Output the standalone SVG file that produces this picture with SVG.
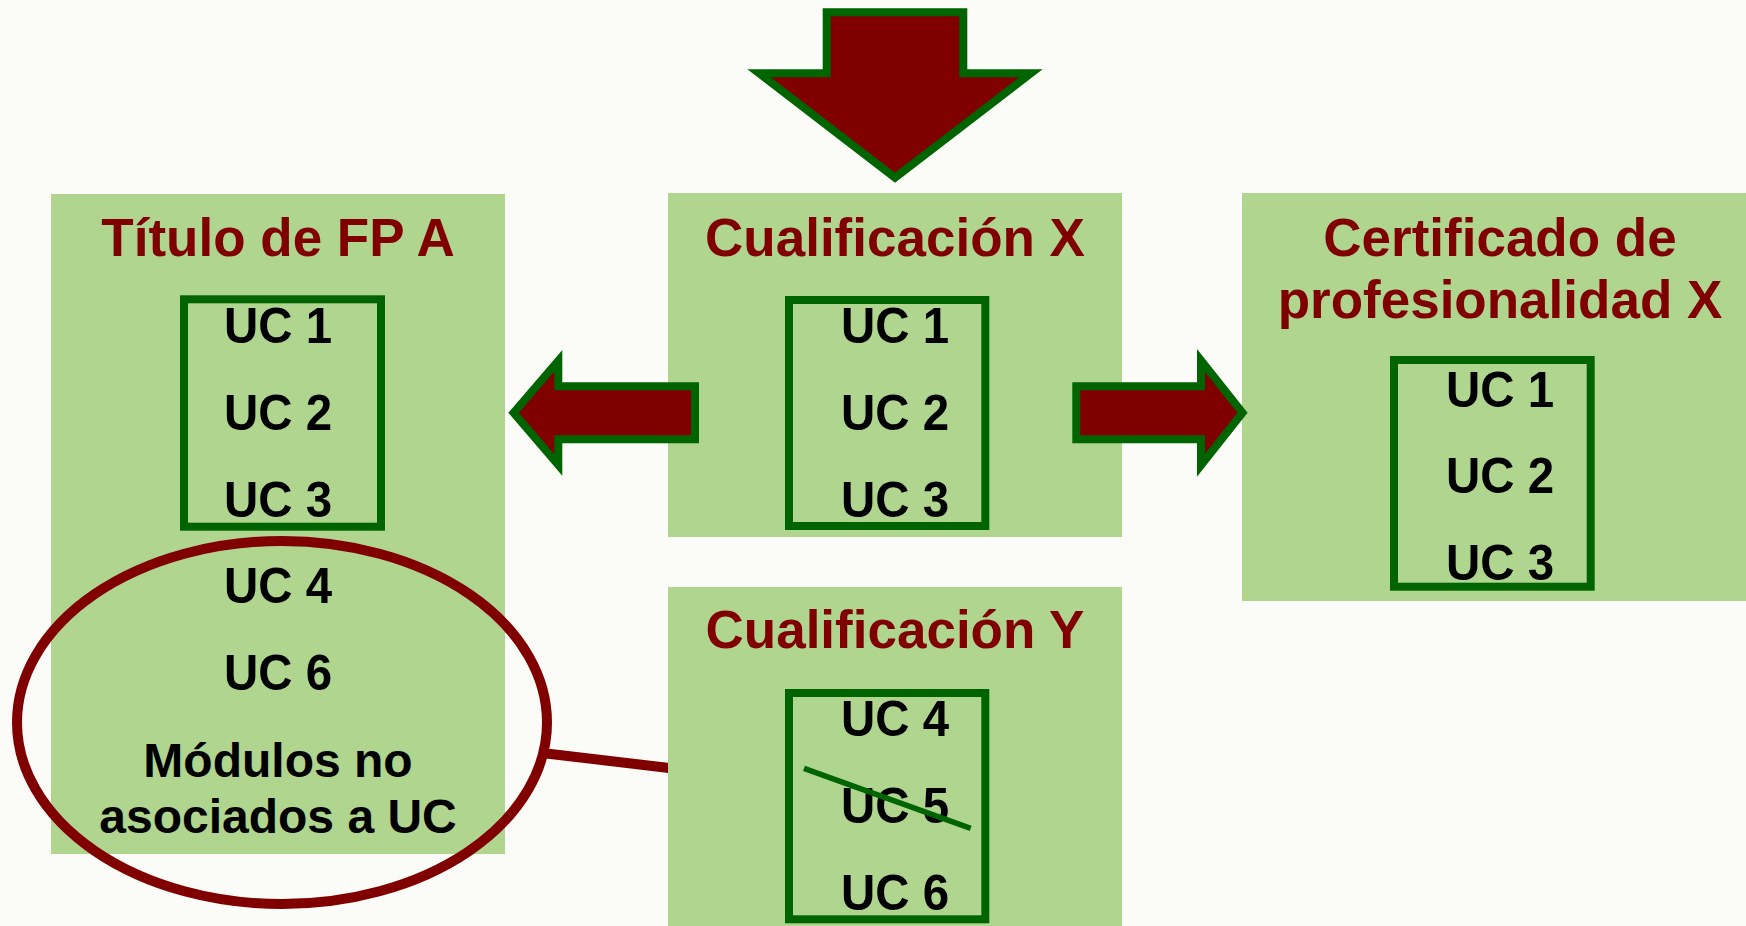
<svg xmlns="http://www.w3.org/2000/svg" width="1746" height="926" viewBox="0 0 1746 926">
<defs>
<style>
.panel{fill:#b0d58f;}
.ucbox{fill:none;stroke:#006400;stroke-width:8;}
.arrow{fill:#800000;stroke:#006400;stroke-width:8;stroke-linejoin:miter;stroke-miterlimit:10;}
.title{font-family:"Liberation Sans",Arial,sans-serif;font-weight:bold;font-size:53px;fill:#800000;text-anchor:middle;}
.uc{font-family:"Liberation Sans",Arial,sans-serif;font-weight:bold;font-size:50px;fill:#000;text-anchor:middle;}
.mod{font-family:"Liberation Sans",Arial,sans-serif;font-weight:bold;font-size:48px;fill:#000;text-anchor:middle;}
</style>
</defs>
<rect width="1746" height="926" fill="#fbfcf7"/>

<g id="connectors">
<line x1="540" y1="752.7" x2="669" y2="768" stroke="#800000" stroke-width="10"/>
</g>

<g id="titulo-fp-a">
<rect class="panel" x="51" y="194" width="454" height="660"/>
<text class="title" x="278" y="256">Título de FP A</text>
<rect class="ucbox" x="184" y="299.3" width="197" height="227.4"/>
<text class="uc" x="278" y="343.3" textLength="108" lengthAdjust="spacingAndGlyphs">UC 1</text>
<text class="uc" x="278" y="430" textLength="108" lengthAdjust="spacingAndGlyphs">UC 2</text>
<text class="uc" x="278" y="517.3" textLength="108" lengthAdjust="spacingAndGlyphs">UC 3</text>
<text class="uc" x="278" y="602.7" textLength="108" lengthAdjust="spacingAndGlyphs">UC 4</text>
<text class="uc" x="278" y="690" textLength="108" lengthAdjust="spacingAndGlyphs">UC 6</text>
<text class="mod" x="278" y="776.7">Módulos no</text>
<text class="mod" x="278" y="833.3">asociados a UC</text>
</g>

<g id="cualificacion-x">
<rect class="panel" x="668" y="193" width="454" height="344"/>
<text class="title" x="895" y="256">Cualificación X</text>
<rect class="ucbox" x="789" y="300" width="196.3" height="226"/>
<text class="uc" x="895" y="343.3" textLength="108" lengthAdjust="spacingAndGlyphs">UC 1</text>
<text class="uc" x="895" y="430" textLength="108" lengthAdjust="spacingAndGlyphs">UC 2</text>
<text class="uc" x="895" y="516.5" textLength="108" lengthAdjust="spacingAndGlyphs">UC 3</text>
</g>

<g id="cualificacion-y">
<rect class="panel" x="668" y="587" width="454" height="345"/>
<text class="title" x="895" y="648.3">Cualificación Y</text>
<rect class="ucbox" x="789" y="693" width="196.3" height="226.3"/>
<text class="uc" x="895" y="736" textLength="108" lengthAdjust="spacingAndGlyphs">UC 4</text>
<text class="uc" x="895" y="822.7" textLength="108" lengthAdjust="spacingAndGlyphs">UC 5</text>
<text class="uc" x="895" y="910" textLength="108" lengthAdjust="spacingAndGlyphs">UC 6</text>
<line x1="804" y1="768.3" x2="970.7" y2="828.3" stroke="#006400" stroke-width="5.5"/>
</g>

<g id="certificado-x">
<rect class="panel" x="1242" y="193" width="510" height="408"/>
<text class="title" x="1500" y="256">Certificado de</text>
<text class="title" x="1500" y="318.3">profesionalidad X</text>
<rect class="ucbox" x="1394" y="360" width="196.7" height="226.7"/>
<text class="uc" x="1500" y="406.7" textLength="108" lengthAdjust="spacingAndGlyphs">UC 1</text>
<text class="uc" x="1500" y="493.3" textLength="108" lengthAdjust="spacingAndGlyphs">UC 2</text>
<text class="uc" x="1500" y="580" textLength="108" lengthAdjust="spacingAndGlyphs">UC 3</text>
</g>

<g id="ellipse-modulos">
<ellipse cx="282" cy="722.5" rx="265" ry="181.5" fill="none" stroke="#800000" stroke-width="10"/>
</g>

<g id="arrow-down">
<polygon class="arrow" points="826.7,12.3 963.3,12.3 963.3,73.3 1030.9,73.3 895,177.6 759.1,73.3 826.7,73.3"/>
</g>
<g id="arrow-left">
<polygon class="arrow" points="513.6,412.8 558.3,360.7 558.3,386.3 695,386.3 695,439.3 558.3,439.3 558.3,464.9"/>
</g>
<g id="arrow-right">
<polygon class="arrow" points="1076.3,386.3 1201,386.3 1201,360.4 1242.5,412.8 1201,465.2 1201,439.3 1076.3,439.3"/>
</g>
</svg>
